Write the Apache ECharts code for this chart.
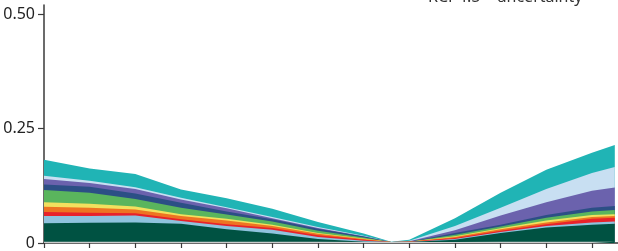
<!DOCTYPE html>
<html>
<head>
<meta charset="utf-8">
<script src="https://cdn.jsdelivr.net/npm/echarts@6/dist/echarts.min.js"></script>
<style>
  html, body { margin: 0; padding: 0; background: #fff; }
  #main { width: 618px; height: 251px; }
</style>
</head>
<body>
<div id="main"></div>
<script>
// years along the x axis (no labels shown in the figure)
var years = [1950, 1960, 1970, 1980, 1990, 2000, 2010, 2020, 2026, 2030, 2040, 2050, 2060, 2070, 2075];
var xTicks = [1950, 1960, 1970, 1980, 1990, 2000, 2010, 2020, 2030, 2040, 2050, 2060, 2070];
var yTicks = [0, 0.25, 0.5];

// layer thicknesses, bottom to top
var grey      = [.003, .003, .003, .003, .003, .003, .003, .002, .002, .002, .002, .003, .003, .003, .003];
var darkGreen = [.040, .041, .042, .039, .027, .018, .006, .001, 0, 0, .005, .019, .031, .037, .039];
var lightBlue = [.016, .015, .015, .006, .007, .008, .004, .002, 0, 0, .002, .002, .003, .005, .005];
var red       = [.009, .007, .005, .004, .004, .004, .004, .002, 0, .001, .002, .003, .004, .008, .008];
var orange    = [.011, .011, .008, .007, .008, .004, .003, .002, 0, 0, .002, .003, .004, .004, .004];
var yellow    = [.010, .009, .007, .004, .004, .003, .002, .001, 0, 0, .002, .002, .004, .004, .004];
var green     = [.027, .024, .016, .014, .009, .007, .005, .002, 0, 0, .003, .004, .006, .008, .009];
var darkBlue  = [.012, .013, .012, .011, .007, .005, .004, .002, 0, 0, .004, .004, .006, .008, .009];
var purple    = [.012, .008, .010, .007, .007, .002, .002, .001, 0, .001, .006, .020, .028, .037, .040];
var paleBlue  = [.007, .005, .004, .004, .002, .003, .002, .001, 0, .001, .009, .017, .029, .039, .045];
var teal      = [.035, .027, .029, .018, .020, .018, .011, .005, .001, .002, .017, .033, .042, .044, .048];

var layers = [
    ['grey', grey, '#c9cbcb'],
    ['darkGreen', darkGreen, '#005242'],
    ['lightBlue', lightBlue, '#8fc3de'],
    ['red', red, '#e8222b'],
    ['orange', orange, '#ee7422'],
    ['yellow', yellow, '#f2e05e'],
    ['green', green, '#5ab55d'],
    ['darkBlue', darkBlue, '#2c4f85'],
    ['purple', purple, '#6b62ad'],
    ['paleBlue', paleBlue, '#c8dff2'],
    ['teal', teal, '#20b4b5']
];

var axisColor = '#3a3a3a';
var myChart = echarts.init(document.getElementById('main'));

// running totals, each layer filled down to zero; upper layers go first so lower ones paint over them
var running = years.map(function () { return 0; });
var series = layers.map(function (l, k) {
    running = running.map(function (s, i) { return s + l[1][i]; });
    return {
        name: l[0],
        type: 'line',
        z: 2 + layers.length - k,
        showSymbol: false,
        lineStyle: { width: 0 },
        areaStyle: { color: l[2], opacity: 1, origin: 'start' },
        itemStyle: { color: l[2] },
        data: years.map(function (y, i) { return [y, +running[i].toFixed(4)]; })
    };
}).reverse();

var option = {
    animation: false,
    grid: { left: 44, right: 0, top: 5, bottom: 5 },
    graphic: [{
        type: 'text',
        left: 428,
        top: -11,
        style: {
            text: 'RCP4.5 \u2013 uncertainty',
            font: '16px "Noto Sans"',
            fill: '#333'
        }
    }],
    xAxis: {
        type: 'value',
        min: 1950,
        max: 2075.7,
        interval: 10,
        splitLine: { show: false },
        axisLine: { lineStyle: { color: axisColor, width: 1.5 } },
        axisTick: { show: true, inside: false, length: 5, customValues: xTicks,
            lineStyle: { color: axisColor, width: 1.2 } },
        axisLabel: { show: false }
    },
    yAxis: {
        type: 'value',
        min: 0,
        max: 0.52,
        splitLine: { show: false },
        axisLine: { show: true, lineStyle: { color: axisColor, width: 1.5 } },
        axisTick: { show: true, length: 6, customValues: yTicks,
            lineStyle: { color: axisColor, width: 1.2 } },
        axisLabel: {
            customValues: yTicks,
            margin: 9,
            color: '#222',
            fontFamily: 'Noto Sans',
            fontSize: 16,
            formatter: function (v) { return v === 0 ? '0' : v.toFixed(2); }
        }
    },
    series: series
};
myChart.setOption(option);
</script>
</body>
</html>
